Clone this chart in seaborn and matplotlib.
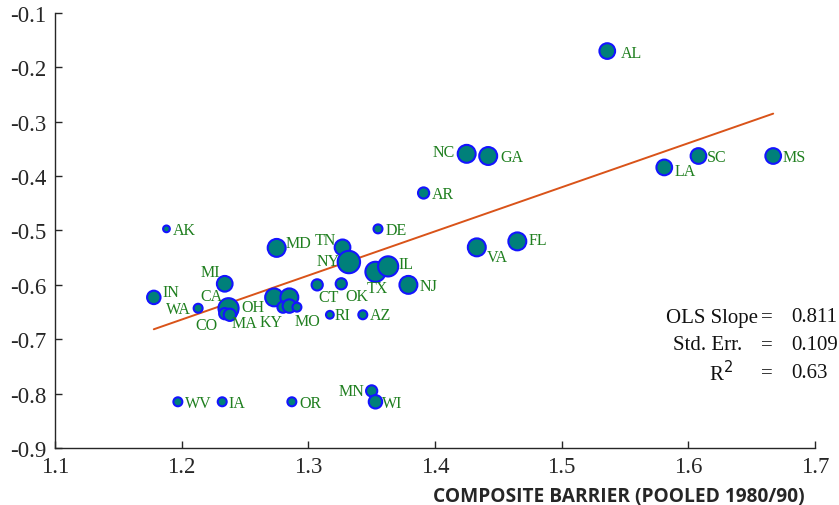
import numpy as np
import pandas as pd
import matplotlib
matplotlib.use("Agg")
import matplotlib.pyplot as plt
import seaborn as sns

# state data (empty label = unlabeled circle)
states = ["OH", "CA", "CO", "MA", "AL", "NC", "GA", "AR", "VA", "FL", "LA", "SC", "MS",
          "AK", "MD", "TN", "NY", "TX", "IL", "NJ", "DE", "CT", "OK", "MI", "IN",
          "WA", "", "", "KY", "", "MO", "RI", "AZ", "MN", "WI", "WV", "IA", "OR"]
barrier = [1.238, 1.237, 1.234, 1.238, 1.536, 1.425, 1.442, 1.391, 1.433, 1.465, 1.581, 1.608, 1.667,
           1.188, 1.275, 1.327, 1.332, 1.353, 1.363, 1.379, 1.355, 1.307, 1.326, 1.234, 1.178,
           1.213, 1.273, 1.285, 1.280, 1.285, 1.291, 1.317, 1.343, 1.350, 1.353, 1.197, 1.232, 1.287]
gap = [-0.648, -0.643, -0.653, -0.655, -0.170, -0.359, -0.363, -0.431, -0.531, -0.520, -0.384, -0.363, -0.363,
       -0.497, -0.532, -0.531, -0.558, -0.576, -0.566, -0.600, -0.497, -0.600, -0.598, -0.598, -0.623,
       -0.643, -0.623, -0.623, -0.641, -0.639, -0.641, -0.655, -0.655, -0.795, -0.815, -0.815, -0.815, -0.815]
# marker weights (area-like)
weight = [49, 81, 25, 30, 49, 64, 64, 25, 64, 64, 49, 49, 49,
          9, 64, 49, 100, 81, 81, 64, 16, 25, 25, 49, 36,
          16, 64, 64, 25, 36, 16, 12, 16, 25, 36, 16, 16, 16]

fit_slope = 0.811
fit_intercept = -1.637
stats_names = ["OLS Slope", "Std. Err.", "R$^2$"]
stats_values = ["0.811", "0.109", "0.63"]

x_ticks = [1.1, 1.2, 1.3, 1.4, 1.5, 1.6, 1.7]
y_ticks = [-0.9, -0.8, -0.7, -0.6, -0.5, -0.4, -0.3, -0.2, -0.1]

# label offsets from the circle centre, in pixels (right, down)
label_offsets = {
    "AL": (24, 2), "NC": (-23, -2), "GA": (24, 1), "AR": (19, 1), "VA": (21, 10),
    "FL": (21, -1), "LA": (21, 4), "SC": (18, 1), "MS": (21, 1), "AK": (18, 1),
    "MD": (22, -5), "TN": (-17, -7), "NY": (-21, -1), "TX": (2, 16), "IL": (18, -2),
    "NJ": (20, 1), "DE": (18, 1), "CT": (11, 12), "OK": (16, 12), "MI": (-14, -12),
    "IN": (17, -5), "CA": (-17, -12), "WA": (-20, 1), "OH": (23, -4), "CO": (-18, 11),
    "MA": (15, 8), "KY": (-12, 15), "MO": (11, 14), "RI": (13, 0), "AZ": (18, 0),
    "MN": (-20, 0), "WI": (17, 1), "WV": (20, 1), "IA": (15, 1), "OR": (19, 1),
}

df = pd.DataFrame({"state": states, "barrier": barrier, "gap": gap, "weight": weight})

sns.set_style("ticks")
plt.rcParams["font.family"] = ["Liberation Serif", "DejaVu Serif"]
plt.rcParams["axes.unicode_minus"] = False

fig = plt.figure(figsize=(8.39, 5.06), dpi=100)
W, H = 839, 506
ax = fig.add_axes([55 / W, 1 - 449 / H, (815 - 55) / W, (449 - 14) / H])

sns.scatterplot(data=df, x="barrier", y="gap", size="weight",
                size_norm=(0, max(weight)), sizes=(0, 260),
                color="#00807a", edgecolor="#1414ff", linewidth=1.5,
                legend=False, ax=ax, zorder=3)

# regression line over the data range
xs = np.array([min(barrier), max(barrier)])
ax.plot(xs, fit_intercept + fit_slope * xs, color="#d95319", lw=1.4, zorder=2)

for _, r in df.iterrows():
    if not r["state"]:
        continue
    dx, dy = label_offsets[r["state"]]
    ax.annotate(r["state"], (r["barrier"], r["gap"]),
                xytext=(dx * 0.72, -dy * 0.72), textcoords="offset points",
                ha="center", va="center", fontsize=11.5, color="#1f7f1f", zorder=4)

ax.set_xlim(1.1, 1.7)
ax.set_ylim(-0.9, -0.1)
ax.set_xticks(x_ticks)
ax.set_xticklabels([f"{v:g}" for v in x_ticks])
ax.set_yticks(y_ticks)
ax.set_yticklabels([f"{v:g}" for v in y_ticks])
ax.tick_params(direction="in", length=5, width=1, labelsize=16.5, pad=6, colors="#262626")
for s in ["left", "bottom"]:
    ax.spines[s].set_color("#262626")
    ax.spines[s].set_linewidth(1)
sns.despine(ax=ax)
ax.set_ylabel("")
ax.set_xlabel("")
fig.text(805 / W, 1 - 497 / H, "COMPOSITE BARRIER (POOLED 1980/90)", ha="right", va="center",
         fontfamily="Open Sans", fontweight="bold", fontsize=13.8, color="#262626")

# regression statistics box
name_right = [758, 742, 733]
rows_y = [318, 346, 374]
for name, val, xr, yy in zip(stats_names, stats_values, name_right, rows_y):
    fig.text(xr / W, 1 - yy / H, name, ha="right", va="center", fontsize=15, color="#111111")
    fig.text(767 / W, 1 - yy / H, "=", ha="center", va="center", fontsize=15, color="#111111")
    fig.text(791 / W, 1 - yy / H, val, ha="left", va="center", fontsize=15, color="#111111")

fig.savefig("out.png", dpi=100)
